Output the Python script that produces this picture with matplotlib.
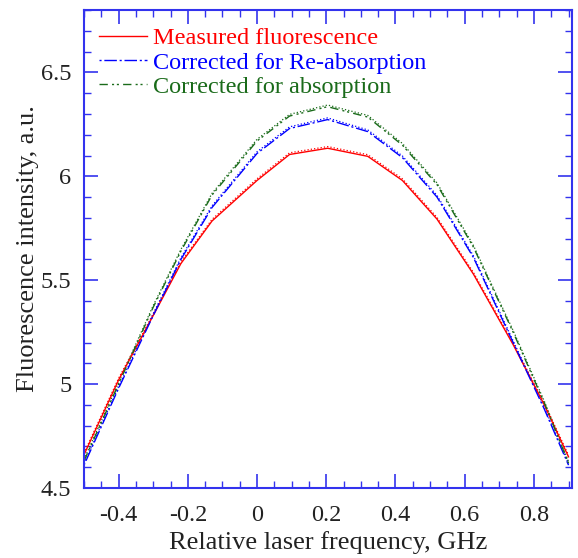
import matplotlib
matplotlib.use("Agg")
import matplotlib.pyplot as plt
from matplotlib.ticker import MultipleLocator
from matplotlib.transforms import offset_copy

plt.rcParams['font.family'] = ['Liberation Serif', 'DejaVu Serif']

# relative laser frequency, GHz
freq = [-0.5, -0.4, -0.3, -0.22, -0.13, 0.0, 0.094, 0.204, 0.32, 0.42, 0.52, 0.625, 0.74, 0.83, 0.9]
measured = [4.66, 5.02, 5.33, 5.58, 5.785, 5.98, 6.105, 6.135, 6.096, 5.98, 5.794, 5.53, 5.19, 4.9, 4.65]
reabs = [4.61, 4.98, 5.33, 5.60, 5.85, 6.11, 6.23, 6.273, 6.215, 6.09, 5.90, 5.61, 5.20, 4.88, 4.61]
absorp = [4.63, 5.00, 5.37, 5.64, 5.91, 6.17, 6.29, 6.335, 6.285, 6.15, 5.96, 5.66, 5.25, 4.91, 4.62]

blue_ax = '#3333ee'
green = '#1a6b1a'

fig = plt.figure(figsize=(5.78, 5.58), dpi=100)
ax = fig.add_axes([0.1453, 0.1254, 0.8443, 0.8566])

# faint dotted companion traces, shifted a hair up
shift = offset_copy(ax.transData, fig=fig, x=0, y=1.2, units='points')
ax.plot(freq, measured, color='red', lw=0.9, ls=':', transform=shift)
ax.plot(freq, reabs, color='blue', lw=0.9, ls=':', transform=shift)
ax.plot(freq, absorp, color=green, lw=0.9, ls=':', transform=shift)

ax.plot(freq, measured, color='red', lw=1.0, label='Measured fluorescence')
ax.plot(freq, reabs, color='blue', lw=1.0, dashes=(1.5, 2, 9, 2), label='Corrected for Re-absorption')
ax.plot(freq, absorp, color=green, lw=1.0, dashes=(6, 3, 1.5, 2, 1.5, 3), label='Corrected for absorption')

ax.set_xlim(-0.5, 0.91)
ax.set_ylim(4.5, 6.8)
ax.xaxis.set_minor_locator(MultipleLocator(0.05))
ax.yaxis.set_minor_locator(MultipleLocator(0.1))
ax.set_xticks([-0.4, -0.2, 0, 0.2, 0.4, 0.6, 0.8])
ax.set_xticklabels(['-0.4', '-0.2', '0', '0.2', '0.4', '0.6', '0.8'])
ax.set_yticks([4.5, 5, 5.5, 6, 6.5])
ax.set_yticklabels(['4.5', '5', '5.5', '6', '6.5'])

ax.tick_params(which='both', direction='in', top=True, right=True, color=blue_ax,
               labelsize=17.5, labelcolor='#222222')
ax.tick_params(which='major', length=10, width=1.2)
ax.tick_params(which='minor', length=5, width=1.0)
ax.tick_params(axis='x', which='major', pad=12)
ax.tick_params(axis='y', which='major', pad=9)
for s in ax.spines.values():
    s.set_color(blue_ax)
    s.set_linewidth(1.5)

ax.set_xlabel('Relative laser frequency, GHz', fontsize=19, color='#222222', labelpad=4)
ax.set_ylabel('Fluorescence intensity, a.u.', fontsize=19, color='#222222', labelpad=1)

leg = ax.legend(loc='upper left', frameon=False, fontsize=17.5, handlelength=2.0,
                handletextpad=0.25, labelspacing=0.1, borderaxespad=0.3,
                bbox_to_anchor=(-0.005, 1.0))
for txt, c in zip(leg.get_texts(), ['red', 'blue', green]):
    txt.set_color(c)

fig.savefig('out.png', dpi=100)
